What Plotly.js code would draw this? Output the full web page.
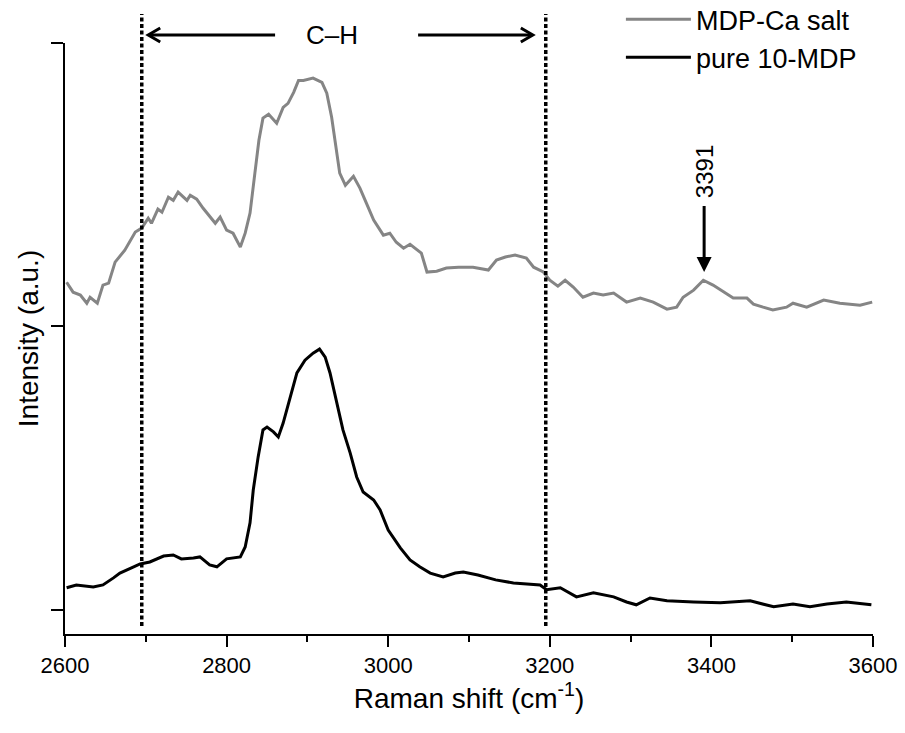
<!DOCTYPE html>
<html>
<head>
<meta charset="utf-8">
<script src="https://cdn.plot.ly/plotly-3.0.1.min.js"></script>
<style>html,body{margin:0;padding:0;background:#fff;}#chart{width:905px;height:733px;}</style>
</head>
<body>
<div id="chart"></div>
<script>
// Raman shift (cm-1)
const caSaltShift = [2602,2610,2619,2627,2631,2640,2647,2654,2662,2674,2687,2695,2703,2707,2715,2720,2728,2734,2740,2751,2755,2763,2771,2786,2792,2800,2808,2817,2823,2829,2835,2840,2845,2852,2862,2870,2876,2883,2889,2895,2907,2918,2924,2930,2940,2947,2957,2965,2973,2982,2994,3002,3010,3019,3027,3041,3048,3060,3072,3087,3105,3124,3134,3145,3157,3171,3180,3192,3200,3210,3219,3229,3241,3254,3266,3279,3295,3312,3328,3345,3357,3365,3378,3390,3402,3415,3427,3444,3452,3464,3476,3493,3501,3518,3539,3559,3584,3599];
// Intensity (a.u.) of MDP-Ca salt
const caSaltIntensity = [1.156,1.121,1.111,1.082,1.103,1.082,1.146,1.153,1.227,1.269,1.333,1.347,1.382,1.364,1.414,1.403,1.456,1.445,1.474,1.445,1.463,1.449,1.417,1.364,1.386,1.340,1.329,1.280,1.329,1.400,1.541,1.657,1.735,1.749,1.717,1.773,1.787,1.826,1.868,1.868,1.876,1.861,1.823,1.738,1.541,1.498,1.530,1.488,1.435,1.375,1.322,1.329,1.297,1.276,1.290,1.259,1.192,1.195,1.206,1.209,1.209,1.199,1.234,1.245,1.252,1.241,1.209,1.192,1.163,1.142,1.163,1.139,1.103,1.118,1.111,1.118,1.086,1.100,1.086,1.061,1.068,1.103,1.128,1.163,1.146,1.121,1.100,1.100,1.079,1.068,1.058,1.068,1.082,1.068,1.093,1.082,1.075,1.086];

const pureShift = [2602,2614,2635,2647,2660,2668,2685,2693,2705,2722,2734,2744,2759,2767,2779,2788,2800,2817,2823,2829,2833,2839,2845,2850,2858,2864,2870,2878,2887,2897,2907,2915,2922,2928,2936,2944,2953,2961,2969,2982,2990,3000,3015,3027,3039,3052,3068,3083,3093,3111,3133,3155,3188,3196,3213,3233,3254,3279,3295,3307,3324,3345,3378,3411,3448,3477,3501,3522,3543,3567,3598];
// Intensity (a.u.) of pure 10-MDP
const pureIntensity = [0.078,0.088,0.081,0.088,0.113,0.130,0.152,0.162,0.169,0.190,0.194,0.180,0.183,0.187,0.159,0.152,0.180,0.187,0.222,0.307,0.423,0.539,0.635,0.645,0.628,0.610,0.659,0.740,0.836,0.881,0.906,0.920,0.892,0.836,0.730,0.635,0.553,0.469,0.416,0.388,0.353,0.282,0.219,0.176,0.152,0.130,0.116,0.130,0.134,0.123,0.106,0.095,0.088,0.071,0.078,0.046,0.060,0.046,0.028,0.018,0.042,0.032,0.028,0.025,0.032,0.011,0.021,0.011,0.021,0.028,0.018];

const seriesNames = ['MDP-Ca salt', 'pure 10-MDP'];
const regionBounds = [2695, 3195];       // C–H region limits (dotted lines)
const regionLabel = 'C–H';
const peakLabel = 3391;
const xTickVals = [2600, 2800, 3000, 3200, 3400, 3600];

const FONT = 'Arial, "Liberation Sans", Helvetica, sans-serif';

const traces = [
  {x: caSaltShift, y: caSaltIntensity, name: seriesNames[0], type: 'scatter', mode: 'lines',
   line: {color: '#858585', width: 3}},
  {x: pureShift, y: pureIntensity, name: seriesNames[1], type: 'scatter', mode: 'lines',
   line: {color: '#000000', width: 3}}
];

const ARROW_Y = 1.0135;
const shapes = regionBounds.map(v => ({
  type: 'line', xref: 'x', yref: 'paper', x0: v, x1: v, y0: 0.0135, y1: 1.049,
  line: {color: '#000', width: 3.5, dash: '4px,2.5px'}, layer: 'above'
})).concat([
  // shafts of the two C–H range arrows
  {type: 'line', xref: 'x', yref: 'paper', x0: 2704, x1: 2860, y0: ARROW_Y, y1: ARROW_Y,
   line: {color: '#000', width: 3}},
  {type: 'line', xref: 'x', yref: 'paper', x0: 3037, x1: 3178, y0: ARROW_Y, y1: ARROW_Y,
   line: {color: '#000', width: 3}},
  // open chevron heads (pixel-sized, anchored at the arrow tips)
  {type: 'path', xref: 'x', yref: 'paper', xsizemode: 'pixel', ysizemode: 'pixel',
   xanchor: 2703, yanchor: ARROW_Y, path: 'M 12 7 L 0 0 L 12 -7',
   line: {color: '#000', width: 3}, fillcolor: 'rgba(0,0,0,0)'},
  {type: 'path', xref: 'x', yref: 'paper', xsizemode: 'pixel', ysizemode: 'pixel',
   xanchor: 3179, yanchor: ARROW_Y, path: 'M -12 7 L 0 0 L -12 -7',
   line: {color: '#000', width: 3}, fillcolor: 'rgba(0,0,0,0)'}
]);

const annotations = [
  {xref: 'x', yref: 'paper', x: 2931, y: ARROW_Y, text: regionLabel, showarrow: false,
   font: {family: FONT, size: 26, color: '#000'}, xanchor: 'center', yanchor: 'middle'},
  {xref: 'x', yref: 'y', x: peakLabel, y: 1.192, ax: 0, ay: -100, borderpad: 7, text: String(peakLabel), textangle: -90,
   showarrow: true, arrowhead: 2, arrowsize: 1, arrowwidth: 3, arrowcolor: '#000', standoff: 0,
   font: {family: FONT, size: 24, color: '#000'}}
];

const layout = {
  width: 905, height: 733,
  margin: {l: 65, r: 32, t: 43, b: 99, autoexpand: false},
  paper_bgcolor: '#fff', plot_bgcolor: '#fff',
  font: {family: FONT, color: '#000'},
  showlegend: true,
  legend: {x: 0.688, y: 1.081, xanchor: 'left', yanchor: 'top', bgcolor: 'rgba(0,0,0,0)',
           font: {family: FONT, size: 27, color: '#000'}, itemwidth: 65, tracegroupgap: 0},
  xaxis: {
    range: [2600, 3600], tickvals: xTickVals, ticktext: xTickVals.map(String),
    ticks: 'outside', ticklen: 11, tickwidth: 2, tickcolor: '#000',
    minor: {dtick: 100, tick0: 2600, ticks: 'outside', ticklen: 6, tickwidth: 2, tickcolor: '#000'},
    showline: true, linecolor: '#000', linewidth: 2, showgrid: false, zeroline: false,
    tickfont: {family: FONT, size: 22, color: '#000'},
    title: {text: 'Raman shift (cm<sup>-1</sup>)', font: {family: FONT, size: 28, color: '#000'}, standoff: 0}
  },
  yaxis: {
    range: [-0.085, 2.0], tickvals: [0, 1, 2], showticklabels: false,
    ticks: 'outside', ticklen: 12, tickwidth: 2, tickcolor: '#000',
    showline: true, linecolor: '#000', linewidth: 2, showgrid: false, zeroline: false,
    title: {text: 'Intensity (a.u.)', font: {family: FONT, size: 28, color: '#000'}, standoff: 4}
  },
  shapes: shapes,
  annotations: annotations
};

Plotly.newPlot('chart', traces, layout, {displayModeBar: false, staticPlot: true});
</script>
</body>
</html>
